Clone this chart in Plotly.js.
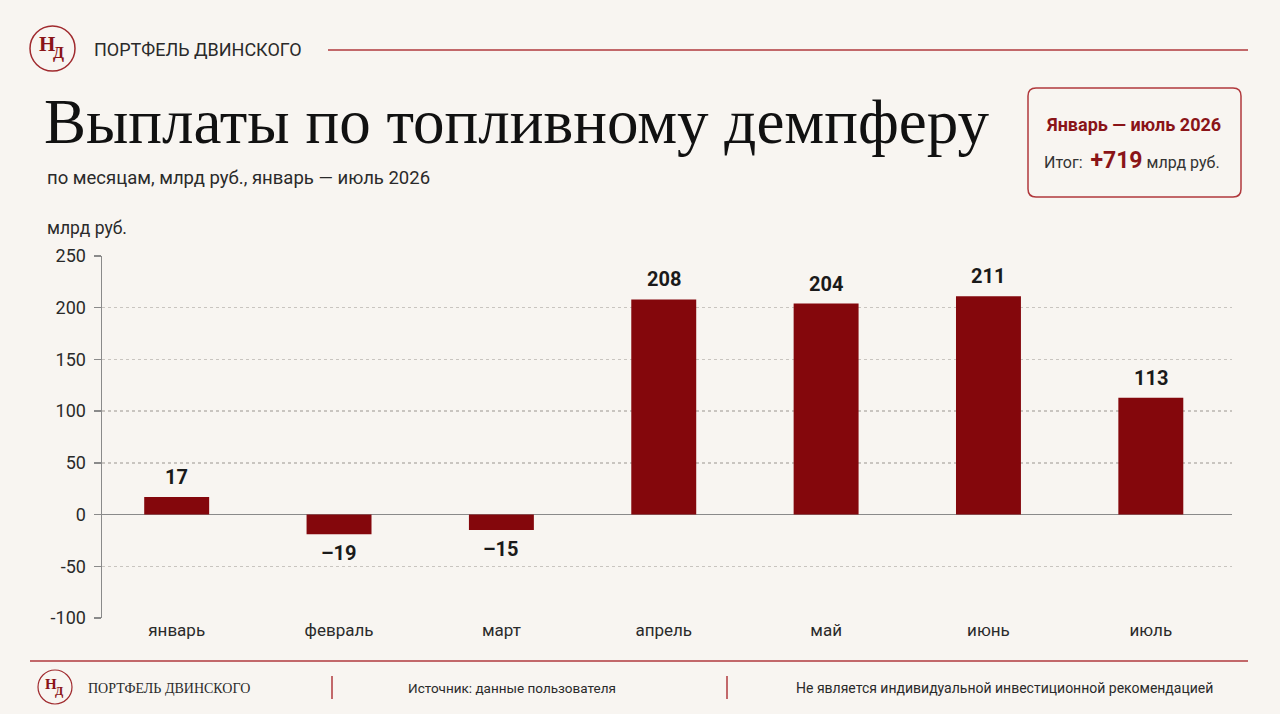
<!DOCTYPE html>
<html><head><meta charset="utf-8">
<script src="https://cdn.plot.ly/plotly-3.0.1.min.js"></script>
<style>html,body{margin:0;padding:0;background:#f8f5f1;}#chart{width:1280px;height:714px;}</style>
</head><body><div id="chart"></div>
<script>
const months = ['январь','февраль','март','апрель','май','июнь','июль'];
const payments = [17, -19, -15, 208, 204, 211, 113];
const yTicks = [-100, -50, 0, 50, 100, 150, 200, 250];
const totalLabel = '+719';

const W = 1280, H = 714;
const M = {l: 102, r: 48, t: 256, b: 96};
const PW = W - M.l - M.r, PH = H - M.t - M.b;
const px = x => (x - M.l) / PW;
const py = y => (H - M.b - y) / PH;

const RED = '#84070c';
const LINE_RED = '#b0383c';
const COND = '"Roboto", "Noto Sans", sans-serif';
const SERIF = '"Liberation Serif", "DejaVu Serif", serif';

const trace = {
  type: 'bar', x: months, y: payments,
  marker: {color: RED},
  hoverinfo: 'skip'
};

function ann(x, y, text, opts) {
  return Object.assign({xref: 'paper', yref: 'paper', x: px(x), y: py(y), text: text, showarrow: false,
    xanchor: 'left', yanchor: 'middle', font: {family: COND, size: 18, color: '#2a2a2a'}}, opts || {});
}

function rrect(x0, y0, x1, y1, r) {
  const rx = r / PW, ry = r / PH;
  const a = px(x0), b = px(x1), c = py(y0), d = py(y1);
  return `M${a + rx},${c} L${b - rx},${c} Q${b},${c} ${b},${c - ry} L${b},${d + ry} Q${b},${d} ${b - rx},${d} L${a + rx},${d} Q${a},${d} ${a},${d + ry} L${a},${c - ry} Q${a},${c} ${a + rx},${c} Z`;
}

const shapes = [
  {type: 'circle', xref: 'paper', yref: 'paper', x0: px(30), x1: px(75), y0: py(71), y1: py(26), line: {color: '#a02a2e', width: 1.5}},
  {type: 'line', xref: 'paper', yref: 'paper', x0: px(328), x1: px(1248), y0: py(50), y1: py(50), line: {color: LINE_RED, width: 1.5}},
  {type: 'path', xref: 'paper', yref: 'paper', path: rrect(1028, 88, 1241, 197, 8), line: {color: LINE_RED, width: 1.5}},
  {type: 'line', xref: 'paper', yref: 'paper', x0: px(30), x1: px(1248), y0: py(661), y1: py(661), line: {color: LINE_RED, width: 1.5}},
  {type: 'line', xref: 'paper', yref: 'paper', x0: px(332), x1: px(332), y0: py(676), y1: py(699), line: {color: LINE_RED, width: 1.5}},
  {type: 'line', xref: 'paper', yref: 'paper', x0: px(727), x1: px(727), y0: py(676), y1: py(699), line: {color: LINE_RED, width: 1.5}},
  {type: 'circle', xref: 'paper', yref: 'paper', x0: px(38), x1: px(72), y0: py(704), y1: py(670), line: {color: '#a02a2e', width: 1.2}}
];

const annotations = [
  ann(47, 44, 'Н', {xanchor: 'center', font: {family: SERIF, size: 21, color: '#8a1418', weight: 'bold'}}),
  ann(58, 53, 'Д', {xanchor: 'center', font: {family: SERIF, size: 16, color: '#8a1418', weight: 'bold'}}),
  ann(92, 49, 'ПОРТФЕЛЬ ДВИНСКОГО', {font: {family: COND, size: 18, color: '#2a2a2a'}}),
  ann(42, 122, 'Выплаты по топливному демпферу', {font: {family: SERIF, size: 63, color: '#111'}}),
  ann(45, 178, 'по месяцам, млрд руб., январь — июль 2026', {font: {family: COND, size: 18.5, color: '#2a2a2a'}}),
  ann(45, 228, 'млрд руб.', {font: {family: COND, size: 17.5, color: '#2a2a2a'}}),
  ann(1133, 124, 'Январь — июль 2026', {xanchor: 'center', font: {family: COND, size: 18, color: '#8a1418', weight: 'bold'}}),
  ann(1132, 160, '<span style="font-size:16px;color:#333">Итог:  </span><b style="font-size:23px;color:#8a1418">' + totalLabel + '</b><span style="font-size:16px;color:#333"> млрд руб.</span>', {xanchor: 'center', font: {family: COND, size: 16, color: '#333'}}),
  ann(51, 684, 'Н', {xanchor: 'center', font: {family: SERIF, size: 15, color: '#8a1418', weight: 'bold'}}),
  ann(59, 691, 'Д', {xanchor: 'center', font: {family: SERIF, size: 12, color: '#8a1418', weight: 'bold'}}),
  ann(86, 688, 'ПОРТФЕЛЬ ДВИНСКОГО', {font: {family: SERIF, size: 14, color: '#2a2a2a'}}),
  ann(512, 688, 'Источник: данные пользователя', {xanchor: 'center', font: {family: COND, size: 13.5, color: '#2a2a2a'}}),
  ann(1004, 688, 'Не является индивидуальной инвестиционной рекомендацией', {xanchor: 'center', font: {family: COND, size: 14, color: '#2a2a2a'}})
];

// value labels, placed through the data axes
months.forEach((m, i) => {
  const v = payments[i];
  annotations.push({
    xref: 'x', yref: 'y', x: m, y: v, text: '<b>' + String(v).replace('-', '–') + '</b>', showarrow: false,
    xanchor: 'center', yanchor: v >= 0 ? 'bottom' : 'top', yshift: v >= 0 ? 6 : -5,
    font: {family: COND, size: 20, color: '#1a1a1a'}
  });
});

const layout = {
  width: W, height: H,
  margin: M,
  paper_bgcolor: '#f8f5f1', plot_bgcolor: '#f8f5f1',
  showlegend: false,
  bargap: 0.6,
  xaxis: {
    range: [-0.46, 6.5], showgrid: false, showline: false, zeroline: false, ticks: '',
    tickfont: {family: COND, size: 17, color: '#2a2a2a'}, fixedrange: true
  },
  yaxis: {
    range: [-100, 250], tickvals: yTicks, ticktext: yTicks.map(v => v < 0 ? '-' + Math.abs(v) : String(v)),
    showgrid: true, gridcolor: '#c9c5c0', griddash: 'dot', gridwidth: 1.5,
    zeroline: true, zerolinecolor: '#8a8a8a', zerolinewidth: 1.5,
    showline: true, linecolor: '#8a8a8a', linewidth: 1.5,
    ticks: 'outside', ticklen: 7, tickcolor: '#8a8a8a', tickwidth: 1.5, ticklabelstandoff: 4,
    tickfont: {family: COND, size: 18, color: '#2a2a2a'}, fixedrange: true
  },
  shapes: shapes,
  annotations: annotations
};

Plotly.newPlot('chart', [trace], layout, {displayModeBar: false, staticPlot: true});
</script></body></html>
